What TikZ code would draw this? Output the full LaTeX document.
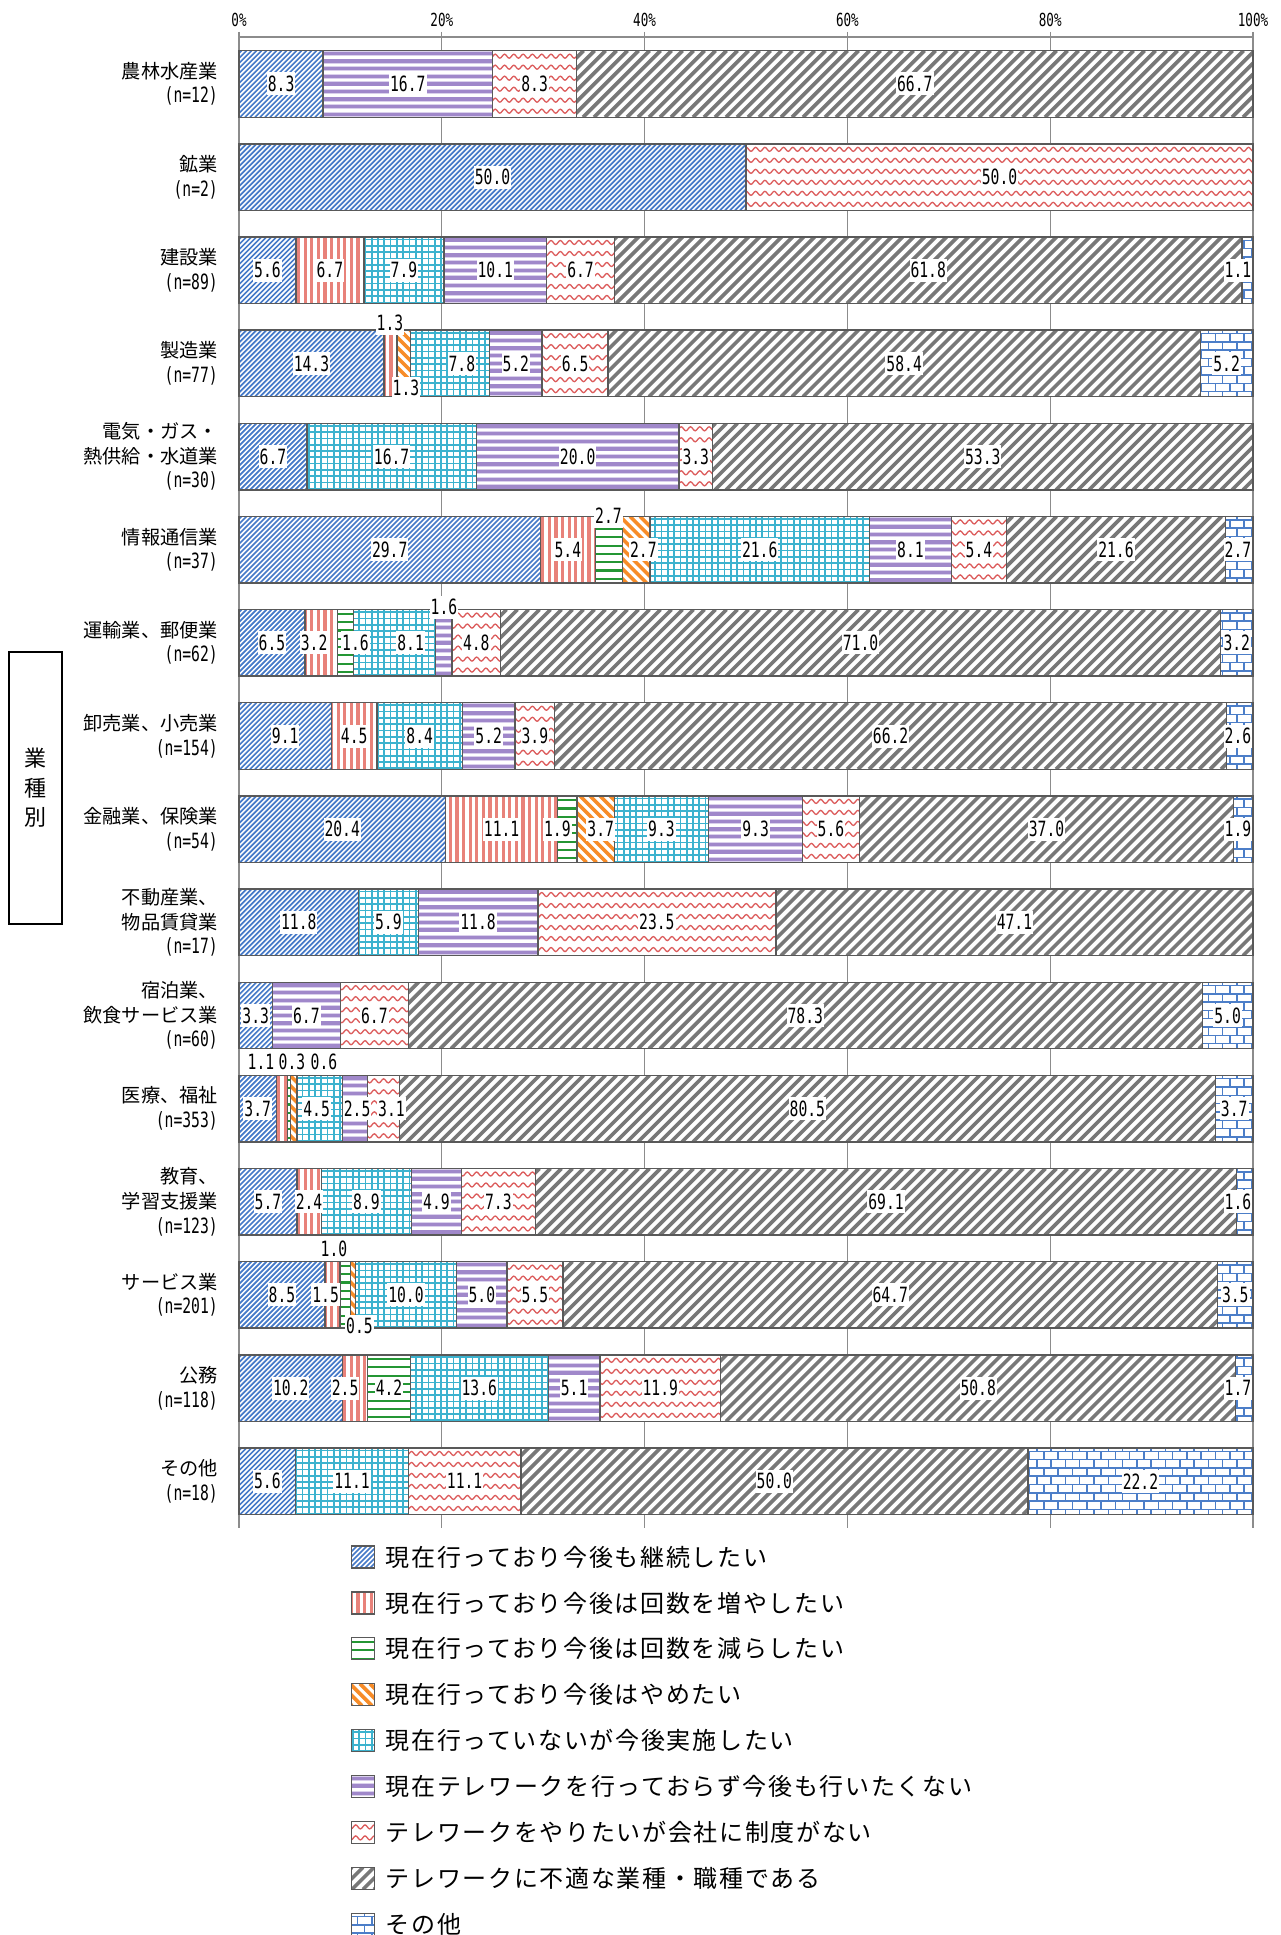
\documentclass[tikz,border=0pt]{standalone}
\usepackage{fontspec}
\setmainfont{Noto Sans CJK JP}
\newfontfamily\legfont[LetterSpace=7]{Noto Sans CJK JP}
\newfontfamily\numfont[FakeStretch=0.7]{DejaVu Sans Mono}
\definecolor{cBlue}{RGB}{70,122,200}
\definecolor{cRed}{RGB}{232,130,122}
\definecolor{cGreen}{RGB}{36,150,52}
\definecolor{cOrange}{RGB}{247,140,40}
\definecolor{cCyan}{RGB}{60,178,206}
\definecolor{cPurple}{RGB}{160,136,202}
\definecolor{cPurpleL}{RGB}{218,208,236}
\definecolor{cWave}{RGB}{220,92,92}
\definecolor{cGray}{RGB}{120,120,120}
\definecolor{cBrick}{RGB}{76,126,200}
\definecolor{cBorder}{RGB}{89,89,89}
\definecolor{cGrid}{RGB}{140,140,140}
% pattern fill of a rectangle, drawn directly: #1 category, (#2,#3) top left, (#4,#5) bottom right
\newcommand\patfill[5]{%
  \begin{scope}
  \clip (#2,#3) rectangle (#4,#5);
  \fill[white] (#2,#3) rectangle (#4,#5);
  \pgfmathsetmacro\ph{#5-#3}%
  \ifcase#1\relax
  \or % 1 blue /
    \pgfmathtruncatemacro\ia{floor((#2-\ph)/5)-1}%
    \pgfmathtruncatemacro\ib{ceil(#4/5)+1}%
    \foreach \i in {\ia,...,\ib}{\draw[cBlue,line width=1.7pt] ({5*\i},#5) -- ({5*\i+\ph},#3);}%
  \or % 2 red vertical
    \pgfmathtruncatemacro\ia{floor(#2/6.6)-1}%
    \pgfmathtruncatemacro\ib{ceil(#4/6.6)+1}%
    \foreach \i in {\ia,...,\ib}{\fill[cRed] ({6.6*\i},#3) rectangle ({6.6*\i+3.2},#5);}%
  \or % 3 green horizontal
    \pgfmathtruncatemacro\jb{ceil(\ph/8.3)+1}%
    \foreach \j in {0,...,\jb}{\fill[cGreen] (#2,{#3+3.2+8.3*\j}) rectangle (#4,{#3+5.3+8.3*\j});}%
  \or % 4 orange backslash
    \pgfmathtruncatemacro\ia{floor((#2-\ph)/10)-1}%
    \pgfmathtruncatemacro\ib{ceil(#4/10)+1}%
    \foreach \i in {\ia,...,\ib}{\draw[cOrange,line width=3.6pt] ({10*\i},#3) -- ({10*\i+\ph},#5);}%
  \or % 5 cyan grid
    \pgfmathtruncatemacro\ia{floor(#2/6.3)-1}%
    \pgfmathtruncatemacro\ib{ceil(#4/6.3)+1}%
    \pgfmathtruncatemacro\jb{ceil(\ph/6.3)+1}%
    \foreach \i in {\ia,...,\ib}{\draw[cCyan,line width=1.7pt] ({6.3*\i},#3) -- ({6.3*\i},#5);}%
    \foreach \j in {0,...,\jb}{\draw[cCyan,line width=1.7pt] (#2,{#3+2.5+6.3*\j}) -- (#4,{#3+2.5+6.3*\j});}%
  \or % 6 purple horizontal
    \pgfmathtruncatemacro\jb{ceil(\ph/7.6)+1}%
    \foreach \j in {0,...,\jb}{\fill[cPurpleL] (#2,{#3+0.3+7.6*\j}) rectangle (#4,{#3+5.3+7.6*\j});
       \fill[cPurple] (#2,{#3+1.1+7.6*\j}) rectangle (#4,{#3+4.5+7.6*\j});}%
  \or % 7 red wave
    \pgfmathtruncatemacro\jb{ceil(\ph/11)}%
    \pgfmathsetmacro\xs{floor(#2/9.3)*9.3}%
    \pgfmathtruncatemacro\nk{ceil((#4-\xs)/9.3)+1}%
    \foreach \j in {0,...,\jb}{\draw[cWave,line width=1.3pt] (\xs,{#3+5.5+11*\j}) \foreach \k in {1,...,\nk}{ sin ++(2.325,-2) cos ++(2.325,2) sin ++(2.325,2) cos ++(2.325,-2)};}%
  \or % 8 gray /
    \pgfmathtruncatemacro\ia{floor((#2-\ph)/11)-1}%
    \pgfmathtruncatemacro\ib{ceil(#4/11)+1}%
    \foreach \i in {\ia,...,\ib}{\draw[cGray,line width=3.6pt] ({11*\i},#5) -- ({11*\i+\ph},#3);}%
  \or % 9 bricks
    \pgfmathtruncatemacro\jb{ceil(\ph/8.3)+1}%
    \pgfmathtruncatemacro\ia{floor(#2/14.3)-1}%
    \pgfmathtruncatemacro\ib{ceil(#4/14.3)+1}%
    \foreach \j in {-1,...,\jb}{%
      \pgfmathsetmacro\yy{#3+3.3+8.3*\j}%
      \draw[cBrick,line width=1.5pt] (#2,\yy) -- (#4,\yy);
      \pgfmathsetmacro\brickoff{mod(\j+2,2)*7.15}%
      \foreach \i in {\ia,...,\ib}{\draw[cBrick,line width=1.5pt] ({14.3*\i+\brickoff},\yy) -- ({14.3*\i+\brickoff},{\yy+8.3});}}%
  \fi
  \end{scope}}
\newcommand\nlab[1]{{\numfont\fontsize{21pt}{24.7pt}\selectfont #1}}
\newcommand\barrow[3]{%
  \pgfmathsetmacro\yt{50.7+(#1-1)*93.15}%
  \pgfmathsetmacro\yb{\yt+66.5}%
  \pgfmathsetmacro\ym{\yt+33.25}%
  \node[catlab] (cat#1) at (218,\ym) {#2};
  \xdef\tot{0}%
  \foreach \myc/\myv/\mydx in {#3}{\pgfmathsetmacro\tmpt{\tot+\myv}\xdef\tot{\tmpt}}%
  \xdef\cum{0}%
  \foreach \myc/\myv/\mydx in {#3}{%
    \pgfmathsetmacro\xa{239+(\cum/\tot)*1014}%
    \pgfmathsetmacro\cumn{\cum+\myv}%
    \pgfmathsetmacro\xb{239+(\cumn/\tot)*1014}%
    \xdef\cum{\cumn}%
    \patfill{\myc}{\xa}{\yt}{\xb}{\yb}%
    \draw[seg] (\xa,\yt) rectangle (\xb,\yb);
  }%
  \xdef\cum{0}%
  \foreach \myc/\myv/\mydx in {#3}{%
    \pgfmathsetmacro\xa{239+(\cum/\tot)*1014}%
    \pgfmathsetmacro\cumn{\cum+\myv}%
    \pgfmathsetmacro\xb{239+(\cumn/\tot)*1014}%
    \xdef\cum{\cumn}%
    \pgfmathsetmacro\xm{(\xa+\xb)/2+\mydx}%
    \pgfmathsetmacro\xm{min(max(\xm,254),1238)}%
    \ifdim\mydx pt<900pt \node[lab] (v#1-\myc) at (\xm,\ym) {\myv};\fi
  }%
}
\begin{document}
\begin{tikzpicture}[x=1pt,y=-1pt,
  seg/.style={draw=cBorder, line width=1.4pt},
  lab/.style={fill=white, inner xsep=1pt, inner ysep=0pt, minimum height=23pt,
    font=\fontsize{21pt}{22pt}\selectfont\numfont, text=black},
  catlab/.style={anchor=east, align=right, inner sep=0pt,
    font=\fontsize{19.2pt}{24.7pt}\selectfont},
  tick/.style={inner sep=0pt, font=\fontsize{18pt}{18pt}\selectfont\numfont},
  legtext/.style={anchor=west, inner sep=0pt, font=\fontsize{24pt}{26pt}\selectfont\legfont}]
\useasboundingbox (0,0) rectangle (1281,1935);
% grid
\foreach \k in {0,...,5}{
  \draw[cGrid, line width=1.3pt] ({239+202.8*\k},32) -- ({239+202.8*\k},1528);
}
\draw[cGrid, line width=1.3pt] (239,37) -- (1253,37);
\node[tick] (t0) at (239,20) {0\%};
\node[tick] (t20) at (441.8,20) {20\%};
\node[tick] (t40) at (644.6,20) {40\%};
\node[tick] (t60) at (847.4,20) {60\%};
\node[tick] (t80) at (1050.2,20) {80\%};
\node[tick] (t100) at (1253,20) {100\%};
% bars
\barrow{1}{農林水産業\\\nlab{(n=12)}}{1/8.3/0,6/16.7/0,7/8.3/0,8/66.7/0}
\barrow{2}{鉱業\\\nlab{(n=2)}}{1/50.0/0,7/50.0/0}
\barrow{3}{建設業\\\nlab{(n=89)}}{1/5.6/0,2/6.7/0,5/7.9/0,6/10.1/0,7/6.7/0,8/61.8/0,9/1.1/0}
\barrow{4}{製造業\\\nlab{(n=77)}}{1/14.3/0,2/1.3/999,4/1.3/999,5/7.8/12,6/5.2/0,7/6.5/0,8/58.4/0,9/5.2/0}
\barrow{5}{電気・ガス・\\熱供給・水道業\\\nlab{(n=30)}}{1/6.7/0,5/16.7/0,6/20.0/0,7/3.3/0,8/53.3/0}
\barrow{6}{情報通信業\\\nlab{(n=37)}}{1/29.7/0,2/5.4/0,3/2.7/999,4/2.7/7,5/21.6/0,6/8.1/0,7/5.4/0,8/21.6/0,9/2.7/0}
\barrow{7}{運輸業、郵便業\\\nlab{(n=62)}}{1/6.5/0,2/3.2/-7,3/1.6/10,5/8.1/16,6/1.6/999,7/4.8/0,8/71.0/0,9/3.2/0}
\barrow{8}{卸売業、小売業\\\nlab{(n=154)}}{1/9.1/0,2/4.5/0,5/8.4/0,6/5.2/0,7/3.9/0,8/66.2/0,9/2.6/0}
\barrow{9}{金融業、保険業\\\nlab{(n=54)}}{1/20.4/0,2/11.1/0,3/1.9/-10,4/3.7/5,5/9.3/0,6/9.3/0,7/5.6/0,8/37.0/0,9/1.9/0}
\barrow{10}{不動産業、\\物品賃貸業\\\nlab{(n=17)}}{1/11.8/0,5/5.9/0,6/11.8/0,7/23.5/0,8/47.1/0}
\barrow{11}{宿泊業、\\飲食サービス業\\\nlab{(n=60)}}{1/3.3/0,6/6.7/0,7/6.7/0,8/78.3/0,9/5.0/0}
\barrow{12}{医療、福祉\\\nlab{(n=353)}}{1/3.7/0,2/1.1/999,3/0.3/999,4/0.6/999,5/4.5/-3,6/2.5/2,7/3.1/8,8/80.5/0,9/3.7/0}
\barrow{13}{教育、\\学習支援業\\\nlab{(n=123)}}{1/5.7/0,2/2.4/0,5/8.9/0,6/4.9/0,7/7.3/0,8/69.1/0,9/1.6/0}
\barrow{14}{サービス業\\\nlab{(n=201)}}{1/8.5/0,2/1.5/-7,3/1.0/999,4/0.5/999,5/10.0/0,6/5.0/0,7/5.5/0,8/64.7/0,9/3.5/0}
\barrow{15}{公務\\\nlab{(n=118)}}{1/10.2/0,2/2.5/-10,3/4.2/0,5/13.6/0,6/5.1/0,7/11.9/0,8/50.8/0,9/1.7/0}
\barrow{16}{その他\\\nlab{(n=18)}}{1/5.6/0,5/11.1/0,7/11.1/0,8/50.0/0,9/22.2/0}
% labels outside small segments
\node[lab] (v4-2) at (390,323) {1.3};
\node[lab] (v4-4) at (406,388) {1.3};
\node[lab] (v6-3) at (608.5,516) {2.7};
\node[lab] (v7-6) at (444,607) {1.6};
\node[lab] (v12-2) at (261,1062) {1.1};
\node[lab] (v12-3) at (292,1062) {0.3};
\node[lab] (v12-4) at (324,1062) {0.6};
\node[lab] (v14-3) at (334,1249) {1.0};
\node[lab] (v14-4) at (359.5,1326) {0.5};
% side box
\node[draw=black, line width=1.2pt, minimum width=53pt, minimum height=272pt,
  align=center, inner sep=0pt, font=\fontsize{22pt}{29.5pt}\selectfont] (side) at (35.5,788) {業\\種\\別};
% legend
\foreach \k/\t in {1/現在行っており今後も継続したい,
  2/現在行っており今後は回数を増やしたい,
  3/現在行っており今後は回数を減らしたい,
  4/現在行っており今後はやめたい,
  5/現在行っていないが今後実施したい,
  6/現在テレワークを行っておらず今後も行いたくない,
  7/テレワークをやりたいが会社に制度がない,
  8/テレワークに不適な業種・職種である,
  9/その他}{
  \pgfmathsetmacro\ly{1557+(\k-1)*45.9}
  \pgfmathsetmacro\lya{\ly-11}
  \pgfmathsetmacro\lyb{\ly+11}
  \patfill{\k}{351.5}{\lya}{374.5}{\lyb}
  \node[draw=cBorder, line width=1.2pt, minimum width=23pt, minimum height=22pt, inner sep=0pt] (sw\k) at (363,\ly) {};
  \node[legtext] (lt\k) at (385.5,\ly) {\t};
}
\end{tikzpicture}
\end{document}
